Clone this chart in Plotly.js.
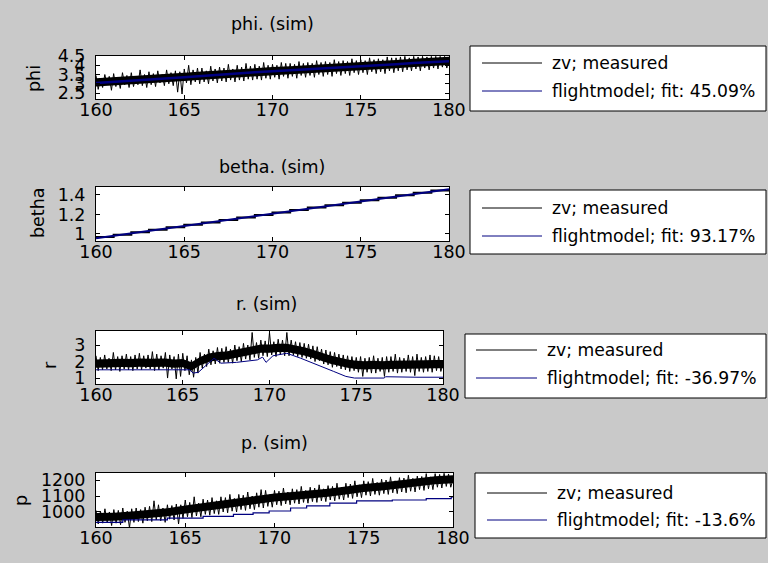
<!DOCTYPE html>
<html>
<head>
<meta charset="utf-8">
<script src="https://cdn.plot.ly/plotly-3.0.1.min.js"></script>
<style>
  html, body { margin: 0; padding: 0; background: #c9c9c9; }
  #chart { width: 768px; height: 563px; }
</style>
</head>
<body>
<div id="chart"></div>
<script>
// ---------------- DATA ----------------
const xTicks = [160, 165, 170, 175, 180];
const sampleStart = 160;
const sampleStep = 0.125;   // raw measured samples
const bandStep1 = 1.0;      // dense-core envelope points every 1 s
const bandStep2 = 0.5;      // dense-core envelope points every 0.5 s

const panelTitles = ["phi. (sim)", "betha. (sim)", "r. (sim)", "p. (sim)"];
const yLabels = ["phi", "betha", "r", "p"];
const legendMeasured = "zv; measured";
const legendModel = ["flightmodel; fit: 45.09%", "flightmodel; fit: 93.17%", "flightmodel; fit: -36.97%", "flightmodel; fit: -13.6%"];

// phi
const phiTicks = [2.5, 3, 3.5, 4, 4.5];
const phiMeasured = [
  3.45, 2.70, 3.30, 2.80, 3.50, 2.95, 3.40, 2.65,
  3.55, 2.85, 3.35, 2.75, 3.60, 2.95, 3.45, 2.80,
  3.60, 2.85, 3.40, 2.95, 3.75, 2.90, 3.50, 2.80,
  3.65, 2.95, 3.55, 2.85, 3.70, 3.05, 3.50, 2.90,
  3.75, 3.00, 3.60, 2.90, 3.70, 2.55, 3.65, 2.45,
  3.80, 3.05, 4.00, 2.95, 3.75, 3.10, 3.85, 3.00,
  3.85, 3.10, 3.70, 3.00, 3.95, 3.15, 3.80, 3.05,
  3.90, 3.15, 3.85, 3.10, 4.05, 3.20, 3.80, 3.10,
  4.00, 3.20, 3.90, 3.15, 4.10, 3.25, 3.95, 3.20,
  4.05, 3.25, 3.95, 3.20, 4.15, 3.30, 4.00, 3.25,
  4.05, 3.35, 4.00, 3.25, 4.15, 3.40, 4.10, 3.30,
  4.10, 3.40, 4.05, 3.30, 4.20, 3.45, 4.10, 3.35,
  4.15, 3.45, 4.10, 3.35, 4.25, 3.50, 4.15, 3.40,
  4.20, 3.50, 4.15, 3.40, 4.30, 3.55, 4.20, 3.45,
  4.25, 3.55, 4.20, 3.45, 4.35, 3.60, 4.25, 3.50,
  4.30, 3.60, 4.25, 3.50, 4.40, 3.65, 4.30, 3.55,
  4.35, 3.65, 4.30, 3.55, 4.45, 3.70, 4.40, 3.60,
  4.40, 3.70, 4.45, 3.65, 4.48, 3.75, 4.40, 3.70,
  4.48, 3.80, 4.45, 3.70, 4.48, 3.85, 4.45, 3.75,
  4.48, 3.85, 4.48, 3.80, 4.48, 3.90, 4.48, 3.85,
  4.30
];
const phiBandLow  = [2.86, 2.91, 2.97, 3.03, 3.09, 3.15, 3.22, 3.29, 3.35, 3.41, 3.46, 3.51, 3.56, 3.61, 3.66, 3.72, 3.78, 3.84, 3.91, 3.97, 4.02];
const phiBandHigh = [3.30, 3.35, 3.41, 3.47, 3.53, 3.59, 3.66, 3.73, 3.79, 3.85, 3.90, 3.95, 4.00, 4.05, 4.10, 4.16, 4.22, 4.28, 4.35, 4.41, 4.46];
const phiModelT = [160,161,162,163,164,165,166,167,168,169,170,171,172,173,174,175,176,177,178,179,180];
const phiModel = [3.05,3.12,3.18,3.24,3.30,3.36,3.42,3.50,3.56,3.62,3.67,3.72,3.76,3.82,3.87,3.93,3.99,4.05,4.12,4.18,4.22];

// betha
const bethaTicks = [1, 1.2, 1.4];
const bethaMeasuredT = [160,161,162,163,164,165,166,167,168,169,170,171,172,173,174,175,176,177,178,179,180];
const bethaMeasured = [0.968,0.993,1.018,1.043,1.069,1.094,1.119,1.144,1.170,1.195,1.220,1.245,1.271,1.296,1.321,1.346,1.371,1.397,1.422,1.447,1.455];
const bethaModelT = [160, 180];
const bethaModel = [0.955, 1.46];

// r
const rTicks = [1, 2, 3];
const rMeasured = [
  2.35, 1.45, 2.25, 1.50,  2.40, 1.55, 2.20, 1.45,
  2.55, 1.50, 2.30, 1.40,  2.35, 1.55, 2.45, 1.50,
  2.30, 1.45, 2.40, 1.55,  2.50, 1.50, 2.35, 1.60,
  2.40, 1.55, 2.60, 1.45,  2.45, 1.50, 2.35, 1.60,
  2.55, 1.00, 2.40, 1.55,  2.30, 0.95, 2.45, 1.10,
  2.50, 1.45, 2.35, 1.20,  2.10, 1.05, 2.25, 1.30,
  2.55, 1.60, 2.45, 1.70,  2.75, 1.80, 2.65, 1.85,
  2.85, 1.90, 2.80, 1.95,  2.90, 1.95, 2.75, 1.90,
  3.00, 2.05, 2.90, 2.00,  3.10, 2.15, 3.00, 2.10,
  3.76, 2.25, 3.15, 2.20,  3.30, 2.35, 3.25, 2.30,
  3.76, 2.40, 3.20, 2.30,  3.35, 2.40, 3.30, 2.35,
  3.76, 2.35, 3.30, 2.40,  3.20, 2.30, 3.15, 2.25,
  3.10, 2.20, 3.05, 2.15,  2.95, 2.00, 2.90, 2.05,
  2.75, 1.85, 2.70, 1.80,  2.60, 1.65, 2.55, 1.70,
  2.45, 1.55, 2.40, 1.50,  2.35, 1.40, 2.30, 1.45,
  2.25, 1.35, 2.30, 1.10,  2.20, 1.35, 2.25, 1.30,
  2.35, 1.30, 2.20, 1.40,  2.25, 1.10, 2.30, 1.35,
  2.30, 1.40, 2.45, 1.30,  2.25, 1.35, 2.20, 1.40,
  2.40, 1.35, 2.30, 1.15,  2.45, 1.40, 2.25, 1.35,
  2.30, 1.40, 2.40, 1.35,  2.35, 1.45, 2.30, 1.40,
  1.90
];
const rBandLow  = [1.63, 1.65, 1.63, 1.67, 1.65, 1.69, 1.67, 1.70, 1.69, 1.63, 1.65, 1.45, 1.78, 1.98, 2.08, 2.11, 2.21, 2.31, 2.41, 2.53, 2.53,
                   2.58, 2.58, 2.48, 2.37, 2.21, 2.03, 1.87, 1.74, 1.62, 1.55, 1.52, 1.55, 1.52, 1.55, 1.55, 1.58, 1.55, 1.58, 1.60, 1.60];
const rBandHigh = [2.13, 2.15, 2.13, 2.17, 2.15, 2.19, 2.17, 2.20, 2.19, 2.13, 2.15, 1.95, 2.28, 2.48, 2.58, 2.61, 2.71, 2.81, 2.91, 3.03, 3.03,
                   3.08, 3.08, 2.98, 2.87, 2.71, 2.53, 2.37, 2.24, 2.12, 2.05, 2.02, 2.05, 2.02, 2.05, 2.05, 2.08, 2.05, 2.08, 2.10, 2.10];
const rModelT = [160, 163.3, 165.4, 165.6, 165.9, 166.8, 167.2, 168.1, 169.3, 169.6, 169.8, 170.2, 171.0, 171.8, 172.7, 173.7, 174.4, 174.9, 176.6, 176.7, 178.5, 180];
const rModel  = [1.5, 1.5, 1.5, 1.3, 1.35, 2.2, 1.9, 1.95, 2.1, 2.27, 1.95, 2.35, 2.5, 2.2, 1.8, 1.4, 1.1, 1.0, 1.0, 1.08, 1.05, 1.05];

// p
const pTicks = [1000, 1100, 1200];
const pMeasured = [
  1010, 925, 1005, 930, 1020, 935, 1000, 915,
  1015, 930, 1010, 920, 1025, 935, 1005, 900,
  1020, 935, 1025, 940, 1015, 930, 1030, 945,
  1035, 940, 1070, 950, 1045, 945, 1025, 935,
  1045, 955, 1040, 950, 1050, 925, 1045, 960,
  1075, 970, 1060, 965, 1095, 975, 1055, 970,
  1080, 985, 1075, 980, 1090, 990, 1070, 985,
  1095, 1000, 1090, 995, 1110, 1005, 1085, 1000,
  1110, 1015, 1105, 1010, 1125, 1020, 1100, 1015,
  1120, 1030, 1140, 1025, 1135, 1035, 1110, 1030,
  1135, 1045, 1130, 1040, 1150, 1050, 1125, 1045,
  1145, 1055, 1140, 1050, 1160, 1060, 1135, 1055,
  1155, 1065, 1150, 1060, 1170, 1070, 1145, 1065,
  1165, 1075, 1160, 1070, 1180, 1080, 1155, 1075,
  1180, 1090, 1175, 1085, 1195, 1095, 1170, 1090,
  1195, 1105, 1190, 1100, 1210, 1110, 1185, 1105,
  1205, 1115, 1200, 1110, 1220, 1120, 1195, 1115,
  1215, 1125, 1212, 1120, 1230, 1130, 1210, 1125,
  1225, 1140, 1222, 1135, 1240, 1145, 1220, 1140,
  1240, 1155, 1235, 1150, 1242, 1160, 1238, 1155,
  1205
];
const pBandLow  = [943, 945, 953, 962, 974, 990, 1005, 1022, 1037, 1049, 1065, 1075, 1085, 1095, 1110, 1125, 1135, 1147, 1158, 1173, 1180];
const pBandHigh = [993, 995, 1003, 1012, 1024, 1040, 1055, 1072, 1087, 1099, 1115, 1125, 1135, 1145, 1160, 1175, 1185, 1197, 1208, 1223, 1230];
const pModelT = [160, 161.5, 164, 166, 167.7, 168.8, 169.7, 170.9, 171.8, 173.1, 174.6, 176.6, 178.5, 179.9, 180];
const pModel  = [935, 950, 962, 972, 985, 995, 1006, 1025, 1038, 1056, 1069, 1075, 1083, 1094, 1094];

// ---------------- BUILD ----------------
function grid(n, step) { const t = []; for (let i = 0; i < n; i++) t.push(sampleStart + i * step); return t; }

const W = 768, H = 563;
const FONT = "DejaVu Sans, Verdana, sans-serif";
const BLACK = "#000000", NAVY = "#000080";
const px = x => x / W;
const py = y => 1 - y / H;

const panels = [
  { xr: [96, 449], yr: [56, 99],   yRange: [2.18, 4.5],  yTicks: phiTicks },
  { xr: [96, 449], yr: [187, 241], yRange: [0.928, 1.482], yTicks: bethaTicks },
  { xr: [96, 443], yr: [331, 384], yRange: [0.64, 3.85], yTicks: rTicks },
  { xr: [96, 453], yr: [473, 527], yRange: [906, 1244],  yTicks: pTicks }
];

function band(low, high, step, ax) {
  const t = grid(low.length, step);
  return [
    { x: t, y: low, xaxis: "x" + ax, yaxis: "y" + ax, mode: "lines", line: { width: 0, color: BLACK }, hoverinfo: "skip", name: legendMeasured },
    { x: t, y: high, xaxis: "x" + ax, yaxis: "y" + ax, mode: "lines", line: { width: 0, color: BLACK }, fill: "tonexty", fillcolor: BLACK, hoverinfo: "skip", name: legendMeasured }
  ];
}
function measured(vals, ax) {
  return { x: grid(vals.length, sampleStep), y: vals, xaxis: "x" + ax, yaxis: "y" + ax, mode: "lines",
    line: { color: BLACK, width: 1 }, name: legendMeasured };
}

const traces = [].concat(
  band(phiBandLow, phiBandHigh, bandStep1, ""),
  [measured(phiMeasured, "")],
  [{ x: phiModelT, y: phiModel, xaxis: "x", yaxis: "y", mode: "lines", line: { color: NAVY, width: 2.5 }, name: legendModel[0] }],

  [{ x: bethaMeasuredT, y: bethaMeasured, xaxis: "x2", yaxis: "y2", mode: "lines", line: { color: BLACK, width: 2, shape: "hv" }, name: legendMeasured }],
  [{ x: bethaModelT, y: bethaModel, xaxis: "x2", yaxis: "y2", mode: "lines", line: { color: NAVY, width: 2 }, name: legendModel[1] }],

  band(rBandLow, rBandHigh, bandStep2, "3"),
  [measured(rMeasured, "3")],
  [{ x: rModelT, y: rModel, xaxis: "x3", yaxis: "y3", mode: "lines", line: { color: NAVY, width: 1 }, name: legendModel[2] }],

  band(pBandLow, pBandHigh, bandStep1, "4"),
  [measured(pMeasured, "4")],
  [{ x: pModelT, y: pModel, xaxis: "x4", yaxis: "y4", mode: "lines", line: { color: NAVY, width: 1.2, shape: "hv" }, name: legendModel[3] }]
).map(t => Object.assign(t, { showlegend: false }));

const layout = {
  width: W, height: H,
  margin: { l: 0, r: 0, t: 0, b: 0 },
  paper_bgcolor: "#c9c9c9",
  plot_bgcolor: "#ffffff",
  font: { family: FONT, size: 17.5, color: BLACK },
  showlegend: false,
  annotations: [],
  shapes: []
};

const axisCommon = {
  showline: true, linecolor: BLACK, linewidth: 1, mirror: "ticks",
  ticks: "inside", ticklen: 4, tickcolor: BLACK, tickwidth: 1,
  showgrid: false, zeroline: false, fixedrange: true,
  tickfont: { family: FONT, size: 17.5, color: BLACK }
};

panels.forEach((p, i) => {
  const n = i === 0 ? "" : String(i + 1);
  layout["xaxis" + n] = Object.assign({}, axisCommon, {
    domain: [px(p.xr[0]), px(p.xr[1])], anchor: "y" + n, range: [160, 180],
    tickmode: "array", tickvals: xTicks, ticktext: xTicks.map(String),
    ticklabelstandoff: -5
  });
  layout["yaxis" + n] = Object.assign({}, axisCommon, {
    domain: [py(p.yr[1]), py(p.yr[0])], anchor: "x" + n, range: p.yRange,
    tickmode: "array", tickvals: p.yTicks, ticktext: p.yTicks.map(String),
    ticklabelstandoff: 6
  });
});

// subplot titles
const titlePos = [[272, 24], [272, 167], [266, 304], [274, 443]];
panelTitles.forEach((t, i) => {
  layout.annotations.push({ text: t, xref: "paper", yref: "paper", x: px(titlePos[i][0]), y: py(titlePos[i][1]),
    xanchor: "center", yanchor: "middle", showarrow: false, font: { family: FONT, size: 17.5, color: BLACK } });
});
// y-axis labels
const yLabPos = [[34, 79], [38, 213], [50, 365], [21, 501]];
yLabels.forEach((t, i) => {
  layout.annotations.push({ text: t, xref: "paper", yref: "paper", x: px(yLabPos[i][0]), y: py(yLabPos[i][1]),
    xanchor: "center", yanchor: "middle", textangle: -90, showarrow: false, font: { family: FONT, size: 17.5, color: BLACK } });
});

// legend boxes
const legends = [
  { box: [470, 46, 766, 111],  line: [482, 542], rows: [63, 91],   text: 550 },
  { box: [470, 190, 766, 254], line: [482, 542], rows: [208, 236], text: 550 },
  { box: [465, 334, 766, 398], line: [476, 537], rows: [350, 378], text: 545 },
  { box: [475, 473, 766, 538], line: [487, 547], rows: [493, 520], text: 555 }
];
legends.forEach((L, i) => {
  layout.shapes.push({ type: "rect", xref: "paper", yref: "paper",
    x0: px(L.box[0]), y0: py(L.box[3]), x1: px(L.box[2]), y1: py(L.box[1]),
    fillcolor: "#ffffff", line: { color: BLACK, width: 1 } });
  layout.shapes.push({ type: "line", xref: "paper", yref: "paper",
    x0: px(L.line[0]), x1: px(L.line[1]), y0: py(L.rows[0]), y1: py(L.rows[0]), line: { color: BLACK, width: 1 } });
  layout.shapes.push({ type: "line", xref: "paper", yref: "paper",
    x0: px(L.line[0]), x1: px(L.line[1]), y0: py(L.rows[1]), y1: py(L.rows[1]), line: { color: NAVY, width: 1 } });
  [legendMeasured, legendModel[i]].forEach((txt, k) => {
    layout.annotations.push({ text: txt, xref: "paper", yref: "paper", x: px(L.text), y: py(L.rows[k]),
      xanchor: "left", yanchor: "middle", showarrow: false, font: { family: FONT, size: 17.2, color: BLACK } });
  });
});

Plotly.newPlot("chart", traces, layout, { displayModeBar: false, staticPlot: true });
</script>
</body>
</html>
